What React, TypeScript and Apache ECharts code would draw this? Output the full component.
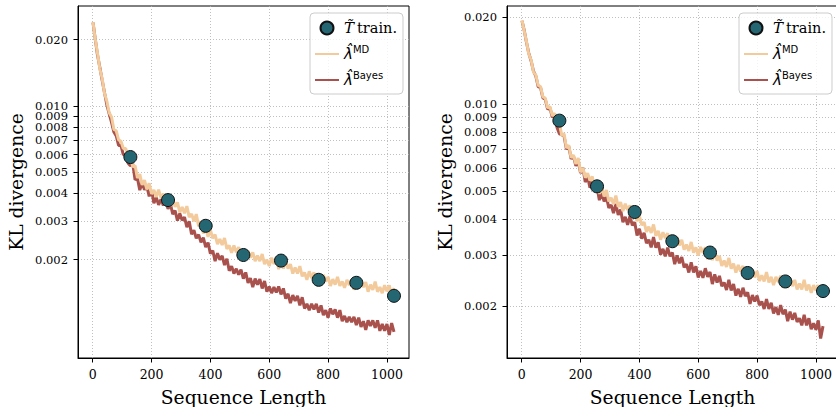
import React, { useEffect, useRef } from "react";
import * as echarts from "echarts";

// Sequence lengths at which the KL curves are sampled (every 8 steps, starting at 1)
const seqLen: number[] = Array.from({ length: 129 }, (_, i) => (i === 0 ? 1 : i * 8));

// Training lengths (markers)
const trainLen = [128, 256, 384, 512, 640, 768, 896, 1024];
const leftTrain = [0.00585, 0.00373, 0.00285, 0.0021, 0.00198, 0.00162, 0.00157, 0.00137];
const rightTrain = [0.00877, 0.0052, 0.00424, 0.00336, 0.00307, 0.00261, 0.00244, 0.00226];

// Left panel curves
const leftMD = [
  0.024, 0.0203, 0.0174, 0.0148, 0.0133, 0.0114, 0.0105, 0.0093, 0.0089, 0.0078, 0.0077, 0.007, 0.0069, 0.0064, 0.0064, 0.0059,
  0.00597, 0.00528, 0.00536, 0.0047, 0.00489, 0.00437, 0.00459, 0.00417, 0.00445, 0.00398, 0.00414, 0.00385, 0.00416, 0.00382, 0.00399, 0.00353,
  0.00381, 0.0035, 0.00378, 0.00348, 0.00364, 0.00328, 0.00347, 0.00325, 0.0035, 0.00312, 0.00323, 0.00299, 0.00322, 0.00284, 0.00299, 0.00263,
  0.00278, 0.00254, 0.00273, 0.0025, 0.0026, 0.00235, 0.00248, 0.00233, 0.00251, 0.00224, 0.00232, 0.00215, 0.00232, 0.00216, 0.00228, 0.00201,
  0.00218, 0.00202, 0.00219, 0.00204, 0.00216, 0.00197, 0.00209, 0.00197, 0.00212, 0.00191, 0.002, 0.00187, 0.00204, 0.00191, 0.00204, 0.00181,
  0.00198, 0.00182, 0.00197, 0.00182, 0.00191, 0.00173, 0.00184, 0.00173, 0.00187, 0.00168, 0.00175, 0.00162, 0.00177, 0.00165, 0.00175, 0.00155,
  0.00169, 0.00156, 0.00171, 0.00159, 0.00167, 0.00152, 0.00163, 0.00154, 0.00167, 0.00152, 0.00159, 0.00149, 0.00162, 0.00153, 0.00163, 0.00146,
  0.00159, 0.00148, 0.00161, 0.0015, 0.00158, 0.00143, 0.00154, 0.00146, 0.00159, 0.00143, 0.0015, 0.00141, 0.00153, 0.00144, 0.00153, 0.00137,
  0.00149,
];
const leftBayes = [
  0.0239, 0.0204, 0.0171, 0.015, 0.0131, 0.0115, 0.0101, 0.0092, 0.0084, 0.0076, 0.0073, 0.0066, 0.0066, 0.006, 0.006, 0.0055,
  0.00534, 0.00546, 0.00461, 0.00469, 0.00414, 0.00447, 0.00416, 0.00431, 0.00388, 0.00413, 0.00361, 0.00383, 0.00355, 0.00376, 0.00353, 0.00373,
  0.0034, 0.00359, 0.00322, 0.00334, 0.00301, 0.00324, 0.00302, 0.00312, 0.00281, 0.00299, 0.00261, 0.00272, 0.0025, 0.0026, 0.0024, 0.00252,
  0.00228, 0.00239, 0.00213, 0.0022, 0.00197, 0.00214, 0.002, 0.00208, 0.00189, 0.00202, 0.00178, 0.00187, 0.00173, 0.00182, 0.00171, 0.0018,
  0.00164, 0.00175, 0.00157, 0.00165, 0.0015, 0.00164, 0.00154, 0.00163, 0.00148, 0.0016, 0.00143, 0.00151, 0.00141, 0.0015, 0.00142, 0.00151,
  0.00139, 0.00148, 0.00133, 0.0014, 0.00127, 0.00138, 0.0013, 0.00137, 0.00124, 0.00135, 0.0012, 0.00126, 0.00118, 0.00126, 0.00119, 0.00126,
  0.00115, 0.00124, 0.00112, 0.00118, 0.00109, 0.0012, 0.00113, 0.00119, 0.00109, 0.00118, 0.00105, 0.00111, 0.00104, 0.0011, 0.00104, 0.0011,
  0.00101, 0.00109, 0.00099, 0.00105, 0.00096, 0.00106, 0.001, 0.00106, 0.00098, 0.00106, 0.00095, 0.00102, 0.00095, 0.00102, 0.00091, 0.00103,
  0.00094,
];

// Right panel curves
const rightMD = [
  0.0195, 0.018, 0.0165, 0.0149, 0.0142, 0.0129, 0.0126, 0.0116, 0.0115, 0.0106, 0.0105, 0.0097, 0.0098, 0.0091, 0.0093, 0.0086,
  0.00867, 0.00778, 0.0079, 0.00706, 0.00721, 0.00653, 0.00667, 0.00621, 0.00651, 0.00582, 0.00602, 0.00557, 0.00577, 0.00545, 0.00562, 0.00504,
  0.0053, 0.0049, 0.0052, 0.0048, 0.00505, 0.00461, 0.00475, 0.00451, 0.00483, 0.00441, 0.00459, 0.00427, 0.00453, 0.00431, 0.00447, 0.00404,
  0.00428, 0.00394, 0.00411, 0.00382, 0.00391, 0.00362, 0.00377, 0.00359, 0.00384, 0.00351, 0.00365, 0.0034, 0.00361, 0.00344, 0.00358, 0.00323,
  0.00345, 0.00323, 0.00347, 0.00325, 0.0034, 0.00314, 0.00327, 0.00311, 0.00334, 0.00307, 0.0032, 0.003, 0.00321, 0.00307, 0.0032, 0.00291,
  0.00311, 0.00289, 0.00309, 0.00288, 0.00299, 0.00276, 0.00288, 0.00274, 0.00294, 0.0027, 0.00281, 0.00262, 0.00278, 0.00264, 0.00276, 0.00249,
  0.00265, 0.00249, 0.00268, 0.00252, 0.00265, 0.00245, 0.00256, 0.00244, 0.00263, 0.00242, 0.00253, 0.00237, 0.00253, 0.00243, 0.00255, 0.00232,
  0.00248, 0.00232, 0.00251, 0.00235, 0.00247, 0.00229, 0.0024, 0.00229, 0.00247, 0.00227, 0.00238, 0.00223, 0.00237, 0.00227, 0.00237, 0.00216,
  0.0023,
];
const rightBayes = [
  0.0194, 0.0181, 0.0164, 0.015, 0.0141, 0.013, 0.0125, 0.0115, 0.0114, 0.0105, 0.0104, 0.0096, 0.0097, 0.009, 0.0092, 0.0083,
  0.0079, 0.00784, 0.00775, 0.00698, 0.00714, 0.00647, 0.00661, 0.00612, 0.00636, 0.00578, 0.00603, 0.00538, 0.00561, 0.00514, 0.00546, 0.00505,
  0.00515, 0.00466, 0.00494, 0.00461, 0.00478, 0.00438, 0.00449, 0.0042, 0.00452, 0.00414, 0.00432, 0.00391, 0.00408, 0.00383, 0.0041, 0.00381,
  0.00391, 0.00352, 0.00371, 0.00343, 0.00359, 0.00331, 0.0034, 0.0032, 0.00347, 0.00319, 0.00333, 0.00302, 0.00316, 0.00298, 0.00319, 0.00298,
  0.00307, 0.0028, 0.003, 0.00282, 0.00296, 0.00273, 0.0028, 0.00262, 0.00284, 0.00262, 0.00275, 0.00252, 0.00265, 0.00251, 0.00271, 0.00253,
  0.00263, 0.00239, 0.00258, 0.00242, 0.00255, 0.00235, 0.00242, 0.00228, 0.00247, 0.00227, 0.00239, 0.00218, 0.0023, 0.00216, 0.00232, 0.00217,
  0.00224, 0.00204, 0.00219, 0.00208, 0.00218, 0.00202, 0.00208, 0.00196, 0.00212, 0.00196, 0.00206, 0.00189, 0.00199, 0.00187, 0.00202, 0.00188,
  0.00195, 0.00178, 0.00192, 0.0018, 0.0019, 0.00177, 0.00182, 0.00172, 0.00187, 0.00172, 0.00182, 0.00167, 0.00175, 0.00166, 0.00179, 0.00155,
  0.00171,
];

// Axis tick values (log-scaled y axes)
const yTickValues = [0.002, 0.003, 0.004, 0.005, 0.006, 0.007, 0.008, 0.009, 0.01, 0.02];
const xTickValues = [0, 200, 400, 600, 800, 1000];

const leftYRange = [0.000715, 0.0284];
const rightYRange = [0.001327, 0.02183];

const MD_COLOR = "#f2ca9c";
const BAYES_COLOR = "#a9514c";
const DOT_COLOR = "#256673";
const SERIF = "DejaVu Serif";

export default function App() {
  const ref = useRef<HTMLDivElement>(null);

  useEffect(() => {
    if (!ref.current) return;
    const chart = echarts.init(ref.current, undefined, { renderer: "svg" });
    const lg = (v: number) => Math.log10(v);
    const toPts = (ys: number[]) => seqLen.map((x, i) => [x, lg(ys[i])]);
    const toTrain = (ys: number[]) => trainLen.map((x, i) => [x, lg(ys[i])]);

    const grids = [
      { left: 78, top: 6, width: 331, height: 352 },
      { left: 507, top: 6, width: 331, height: 352 },
    ].map((g) => ({
      ...g,
      show: true,
      borderColor: "#000",
      borderWidth: 1,
      backgroundColor: "transparent",
      containLabel: false,
      outerBoundsMode: "none",
    }));

    const splitLine = { show: true, lineStyle: { color: "#b0b0b0", type: [1, 2] as any, width: 0.8 } };

    const xAxis = [0, 1].map((gi) => ({
      type: "value",
      gridIndex: gi,
      min: -50,
      max: 1075,
      name: "Sequence Length",
      nameLocation: "middle",
      nameGap: 30,
      nameTextStyle: { fontFamily: SERIF, fontSize: 18.7, color: "#000" },
      axisLine: { show: true, onZero: false, lineStyle: { color: "#000", width: 1 } },
      axisTick: { show: true, length: 4.5, lineStyle: { color: "#000" }, customValues: xTickValues },
      axisLabel: {
        color: "#000",
        fontFamily: SERIF,
        fontSize: 12.5,
        margin: 10,
        customValues: xTickValues,
        formatter: (v: number) => String(Math.round(v)),
      },
      splitLine,
    }));

    const yAxis = [leftYRange, rightYRange].map((r, gi) => ({
      type: "value",
      gridIndex: gi,
      min: lg(r[0]),
      max: lg(r[1]),
      name: "KL divergence",
      nameLocation: "middle",
      nameGap: 52,
      nameTextStyle: { fontFamily: SERIF, fontSize: 18.7, color: "#000" },
      axisLine: { show: true, onZero: false, lineStyle: { color: "#000", width: 1 } },
      axisTick: { show: true, length: 4.5, lineStyle: { color: "#000" }, customValues: yTickValues.map(lg) },
      axisLabel: {
        color: "#000",
        fontFamily: SERIF,
        fontSize: 11.5,
        lineHeight: 9,
        margin: 10,
        customValues: yTickValues.map(lg),
        formatter: (v: number) => Math.pow(10, v).toFixed(3),
      },
      splitLine,
    }));

    const panel = (gi: number, md: number[], bayes: number[], train: number[]) => [
      {
        type: "line",
        name: "Bayes",
        xAxisIndex: gi,
        yAxisIndex: gi,
        data: toPts(bayes),
        symbol: "none",
        showSymbol: false,
        lineStyle: { color: BAYES_COLOR, width: 3 },
        itemStyle: { color: BAYES_COLOR },
        z: 2,
      },
      {
        type: "line",
        name: "MD",
        xAxisIndex: gi,
        yAxisIndex: gi,
        data: toPts(md),
        symbol: "none",
        showSymbol: false,
        lineStyle: { color: MD_COLOR, width: 3 },
        itemStyle: { color: MD_COLOR },
        z: 3,
      },
      {
        type: "scatter",
        name: "train",
        xAxisIndex: gi,
        yAxisIndex: gi,
        data: toTrain(train),
        symbol: "circle",
        symbolSize: 13,
        itemStyle: { color: DOT_COLOR, borderColor: "#111", borderWidth: 1, opacity: 1 },
        z: 4,
      },
    ];

    const legendRich = {
      t: { fontFamily: SERIF, fontStyle: "italic", fontSize: 15, color: "#000", lineHeight: 20, padding: [0, 3, 0, 0] },
      n: { fontFamily: SERIF, fontSize: 14.5, color: "#000", lineHeight: 20 },
      l: { fontFamily: "DejaVu Sans", fontStyle: "italic", fontSize: 15, color: "#000", lineHeight: 20 },
      s: { fontFamily: "DejaVu Sans", fontSize: 10, color: "#000", lineHeight: 13, verticalAlign: "top" },
    };
    const legendFmt = (name: string) =>
      name === "train" ? "{t|T\u0303}{n|train.}" : name === "MD" ? "{l|\u03bb\u0302}{s|MD}" : "{l|\u03bb\u0302}{s|Bayes}";

    const lineIcon = "path://M0,0H24V2H0Z";
    const legend = [310, 739].map((left) => ({
      left,
      top: 13,
      orient: "vertical",
      data: [
        { name: "train", icon: "circle" },
        { name: "MD", icon: lineIcon, itemStyle: { color: MD_COLOR } },
        { name: "Bayes", icon: lineIcon, itemStyle: { color: BAYES_COLOR } },
      ],
      itemWidth: 24,
      itemHeight: 13,
      itemGap: 6,
      padding: [5, 6, 4, 5],
      selectedMode: false,
      backgroundColor: "rgba(255,255,255,0.8)",
      borderColor: "#cccccc",
      borderWidth: 1,
      borderRadius: 4,
      formatter: legendFmt,
      textStyle: { rich: legendRich, lineHeight: 20 },
    }));

    chart.setOption({
      animation: false,
      grid: grids,
      xAxis,
      yAxis,
      legend,
      series: [...panel(0, leftMD, leftBayes, leftTrain), ...panel(1, rightMD, rightBayes, rightTrain)],
    } as any);

    return () => chart.dispose();
  }, []);

  return (
    <div
      ref={ref}
      style={{ position: "absolute", left: 0, top: 0, width: 836, height: 407, background: "#fff" }}
    />
  );
}
